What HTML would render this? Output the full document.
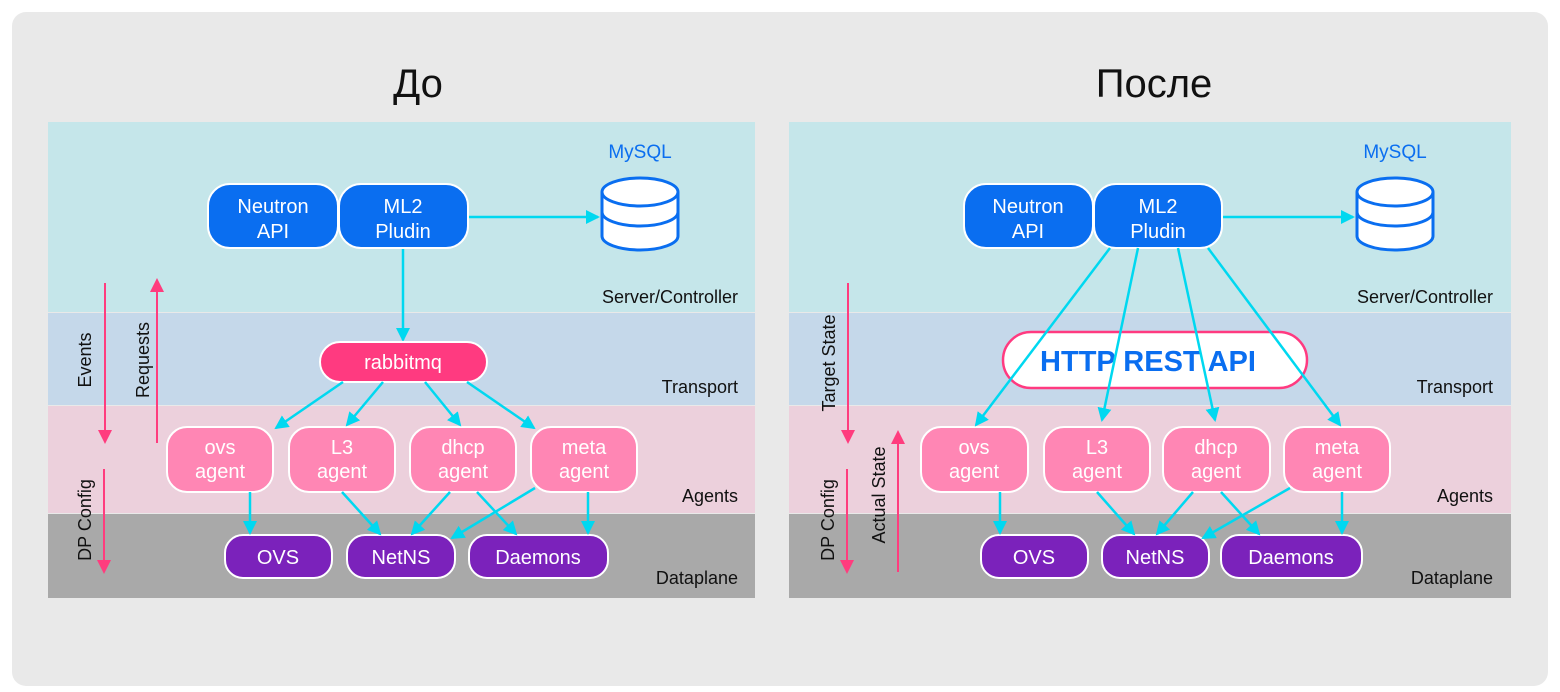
<!DOCTYPE html>
<html><head><meta charset="utf-8"><style>
html,body{margin:0;padding:0;background:#fff;}
svg{display:block;font-family:"Liberation Sans",sans-serif;}
</style></head><body>
<svg width="1560" height="692" viewBox="0 0 1560 692" xmlns="http://www.w3.org/2000/svg">
<defs>
<marker id="ca" markerWidth="14" markerHeight="14" refX="12" refY="7" orient="auto" markerUnits="userSpaceOnUse"><path d="M0,0 L14,7 L0,14 z" fill="#00d8f0"/></marker>
<marker id="p" markerWidth="14" markerHeight="14" refX="12" refY="7" orient="auto" markerUnits="userSpaceOnUse"><path d="M0,0 L14,7 L0,14 z" fill="#ff3c7e"/></marker>
</defs>
<rect x="12" y="12" width="1536" height="674" rx="14" fill="#e9e9e9"/>
<text x="418" y="97" font-size="40" text-anchor="middle" fill="#111">До</text>
<text x="1154" y="97" font-size="40" text-anchor="middle" fill="#111">После</text>

<!-- LEFT PANEL -->
<g>
<rect x="48" y="122" width="707" height="190" fill="#c5e6ea"/>
<rect x="48" y="313" width="707" height="92" fill="#c5d8ea"/>
<rect x="48" y="406" width="707" height="107" fill="#ecd0dc"/>
<rect x="48" y="514" width="707" height="84" fill="#a9a9a9"/>
<g font-size="18" fill="#111" text-anchor="end">
<text x="738" y="303">Server/Controller</text><text x="738" y="393">Transport</text>
<text x="738" y="502">Agents</text><text x="738" y="584">Dataplane</text></g>
<text x="640" y="158" font-size="19" fill="#0a6ef0" text-anchor="middle">MySQL</text>
<g fill="#fff" stroke="#0a6ef0" stroke-width="3">
<path d="M602,192 v44 a38,14 0 0 0 76,0 v-44"/>
<path d="M602,212 a38,14 0 0 0 76,0" fill="none"/>
<ellipse cx="640" cy="192" rx="38" ry="14"/></g>
<line x1="468" y1="217" x2="598" y2="217" stroke="#00d8f0" stroke-width="2.5" marker-end="url(#ca)"/>
<line x1="403" y1="248" x2="403" y2="340" stroke="#00d8f0" stroke-width="2.5" marker-end="url(#ca)"/>
<g stroke="#fff" stroke-width="2">
<rect x="208" y="184" width="130" height="64" rx="22" fill="#0a6ef0"/>
<rect x="339" y="184" width="129" height="64" rx="22" fill="#0a6ef0"/>
<rect x="320" y="342" width="167" height="40" rx="20" fill="#ff3a80"/>
<rect x="167" y="427" width="106" height="65" rx="20" fill="#ff86b4"/>
<rect x="289" y="427" width="106" height="65" rx="20" fill="#ff86b4"/>
<rect x="410" y="427" width="106" height="65" rx="20" fill="#ff86b4"/>
<rect x="531" y="427" width="106" height="65" rx="20" fill="#ff86b4"/>
<rect x="225" y="535" width="107" height="43" rx="18" fill="#7b22bb"/>
<rect x="347" y="535" width="108" height="43" rx="18" fill="#7b22bb"/>
<rect x="469" y="535" width="139" height="43" rx="18" fill="#7b22bb"/></g>
<g font-size="20" fill="#fff" text-anchor="middle">
<text x="273" y="213">Neutron</text><text x="273" y="238">API</text>
<text x="403" y="213">ML2</text><text x="403" y="238">Pludin</text>
<text x="403" y="369">rabbitmq</text>
<text x="220" y="454">ovs</text><text x="220" y="478">agent</text>
<text x="342" y="454">L3</text><text x="342" y="478">agent</text>
<text x="463" y="454">dhcp</text><text x="463" y="478">agent</text>
<text x="584" y="454">meta</text><text x="584" y="478">agent</text>
<text x="278" y="564">OVS</text><text x="401" y="564">NetNS</text><text x="538" y="564">Daemons</text></g>
<g stroke="#00d8f0" stroke-width="2.5" marker-end="url(#ca)">
<line x1="343" y1="382" x2="276" y2="428"/><line x1="383" y1="382" x2="347" y2="425"/>
<line x1="425" y1="382" x2="460" y2="425"/><line x1="467" y1="382" x2="534" y2="428"/>
<line x1="250" y1="492" x2="250" y2="533"/><line x1="342" y1="492" x2="380" y2="534"/>
<line x1="450" y1="492" x2="412" y2="534"/><line x1="477" y1="492" x2="516" y2="534"/>
<line x1="535" y1="488" x2="452" y2="538"/><line x1="588" y1="492" x2="588" y2="533"/></g>
<g stroke="#ff3c7e" stroke-width="2" marker-end="url(#p)">
<line x1="105" y1="283" x2="105" y2="442"/><line x1="157" y1="443" x2="157" y2="280"/>
<line x1="104" y1="469" x2="104" y2="572"/></g>
<g font-size="18" fill="#111" text-anchor="middle">
<text transform="translate(91,360) rotate(-90)">Events</text>
<text transform="translate(149,360) rotate(-90)">Requests</text>
<text transform="translate(91,520) rotate(-90)">DP Config</text></g>
</g>

<!-- RIGHT PANEL -->
<g>
<rect x="789" y="122" width="722" height="190" fill="#c5e6ea"/>
<rect x="789" y="313" width="722" height="92" fill="#c5d8ea"/>
<rect x="789" y="406" width="722" height="107" fill="#ecd0dc"/>
<rect x="789" y="514" width="722" height="84" fill="#a9a9a9"/>
<g font-size="18" fill="#111" text-anchor="end">
<text x="1493" y="303">Server/Controller</text><text x="1493" y="393">Transport</text>
<text x="1493" y="502">Agents</text><text x="1493" y="584">Dataplane</text></g>
<text x="1395" y="158" font-size="19" fill="#0a6ef0" text-anchor="middle">MySQL</text>
<g fill="#fff" stroke="#0a6ef0" stroke-width="3">
<path d="M1357,192 v44 a38,14 0 0 0 76,0 v-44"/>
<path d="M1357,212 a38,14 0 0 0 76,0" fill="none"/>
<ellipse cx="1395" cy="192" rx="38" ry="14"/></g>
<line x1="1222" y1="217" x2="1353" y2="217" stroke="#00d8f0" stroke-width="2.5" marker-end="url(#ca)"/>
<rect x="1003" y="332" width="304" height="56" rx="28" fill="#fff" stroke="#ff3a80" stroke-width="2.5"/>
<text x="1148" y="371" font-size="29" font-weight="bold" fill="#0a6ef0" text-anchor="middle">HTTP REST API</text>
<g stroke="#fff" stroke-width="2">
<rect x="964" y="184" width="129" height="64" rx="22" fill="#0a6ef0"/>
<rect x="1094" y="184" width="128" height="64" rx="22" fill="#0a6ef0"/>
<rect x="921" y="427" width="107" height="65" rx="20" fill="#ff86b4"/>
<rect x="1044" y="427" width="106" height="65" rx="20" fill="#ff86b4"/>
<rect x="1163" y="427" width="107" height="65" rx="20" fill="#ff86b4"/>
<rect x="1284" y="427" width="106" height="65" rx="20" fill="#ff86b4"/>
<rect x="981" y="535" width="107" height="43" rx="18" fill="#7b22bb"/>
<rect x="1102" y="535" width="107" height="43" rx="18" fill="#7b22bb"/>
<rect x="1221" y="535" width="141" height="43" rx="18" fill="#7b22bb"/></g>
<g font-size="20" fill="#fff" text-anchor="middle">
<text x="1028" y="213">Neutron</text><text x="1028" y="238">API</text>
<text x="1158" y="213">ML2</text><text x="1158" y="238">Pludin</text>
<text x="974" y="454">ovs</text><text x="974" y="478">agent</text>
<text x="1097" y="454">L3</text><text x="1097" y="478">agent</text>
<text x="1216" y="454">dhcp</text><text x="1216" y="478">agent</text>
<text x="1337" y="454">meta</text><text x="1337" y="478">agent</text>
<text x="1034" y="564">OVS</text><text x="1155" y="564">NetNS</text><text x="1291" y="564">Daemons</text></g>
<g stroke="#00d8f0" stroke-width="2.5" marker-end="url(#ca)">
<line x1="1110" y1="248" x2="976" y2="425"/><line x1="1138" y1="248" x2="1102" y2="420"/>
<line x1="1178" y1="248" x2="1215" y2="420"/><line x1="1208" y1="248" x2="1340" y2="425"/>
<line x1="1000" y1="492" x2="1000" y2="533"/><line x1="1097" y1="492" x2="1134" y2="534"/>
<line x1="1193" y1="492" x2="1157" y2="534"/><line x1="1221" y1="492" x2="1259" y2="534"/>
<line x1="1290" y1="488" x2="1203" y2="538"/><line x1="1342" y1="492" x2="1342" y2="533"/></g>
<g stroke="#ff3c7e" stroke-width="2" marker-end="url(#p)">
<line x1="848" y1="283" x2="848" y2="442"/><line x1="898" y1="572" x2="898" y2="432"/>
<line x1="847" y1="469" x2="847" y2="572"/></g>
<g font-size="18" fill="#111" text-anchor="middle">
<text transform="translate(835,363) rotate(-90)">Target State</text>
<text transform="translate(885,495) rotate(-90)">Actual State</text>
<text transform="translate(834,520) rotate(-90)">DP Config</text></g>
</g>
</svg>
</body></html>
